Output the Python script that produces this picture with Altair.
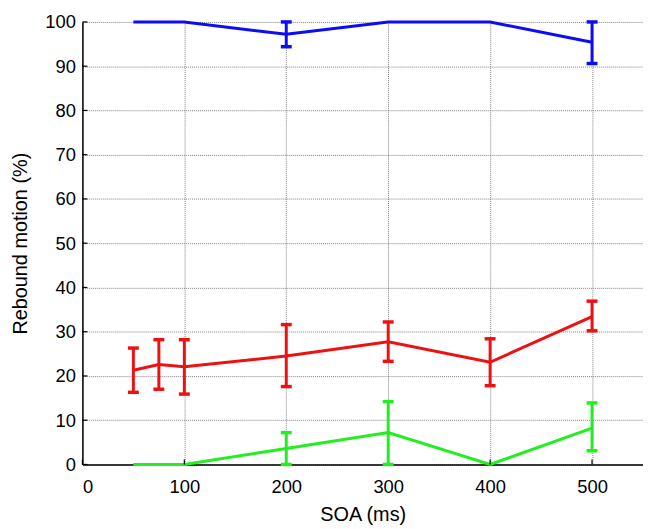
import altair as alt
import pandas as pd

soa = [50, 75, 100, 200, 300, 400, 500]
blue_mean = [100, 100, 100, 97.2, 100, 100, 95.4]
blue_lo = [100, 100, 100, 94.4, 100, 100, 90.6]
blue_hi = [100, 100, 100, 100, 100, 100, 100]
red_mean = [21.3, 22.6, 22.1, 24.5, 27.7, 23.1, 33.4]
red_lo = [16.3, 17.0, 15.9, 17.6, 23.3, 17.8, 30.2]
red_hi = [26.3, 28.2, 28.2, 31.6, 32.2, 28.4, 36.9]
green_mean = [0, 0, 0, 3.6, 7.2, 0, 8.2]
green_lo = [0, 0, 0, 0, 0, 0, 3.1]
green_hi = [0, 0, 0, 7.2, 14.2, 0, 13.9]

x_ticks = [0, 100, 200, 300, 400, 500]
y_ticks = list(range(0, 101, 10))

series = ["blue", "red", "green"]
colors = ["#0c0cf5", "#ee1111", "#22ee22"]

rows = []
for name, m, lo, hi in [("blue", blue_mean, blue_lo, blue_hi),
                        ("red", red_mean, red_lo, red_hi),
                        ("green", green_mean, green_lo, green_hi)]:
    for x, a, b, c in zip(soa, m, lo, hi):
        rows.append({"soa": x, "series": name, "mean": a, "lo": b, "hi": c,
                     "bar": c > b + 0.01})
df = pd.DataFrame(rows)

font = "Liberation Sans"
xscale = alt.Scale(domain=[0, 550], nice=False, zero=False)
yscale = alt.Scale(domain=[0, 100], nice=False)
color = alt.Color("series:N", scale=alt.Scale(domain=series, range=colors), legend=None)

axis_common = dict(grid=True, gridDash=[1, 1], gridColor="#808080", gridOpacity=1,
                   domainColor="black", domainWidth=1.5, ticks=False,
                   labelFont=font, titleFont=font, labelFontSize=18.5, titleFontSize=20,
                   labelColor="black", titleColor="black", titleFontWeight="normal")

base = alt.Chart(df)

line = base.mark_line(strokeWidth=3, clip=False).encode(
    x=alt.X("soa:Q", scale=xscale,
            axis=alt.Axis(values=x_ticks, title="SOA (ms)",
                          labelPadding=13, titlePadding=9, **axis_common)),
    y=alt.Y("mean:Q", scale=yscale,
            axis=alt.Axis(values=y_ticks, title="Rebound motion (%)",
                          labelPadding=7, titlePadding=14, **axis_common)),
    color=color,
)

sel = base.transform_filter("datum.bar")
bars = sel.mark_rule(strokeWidth=3, clip=False).encode(
    x="soa:Q", y="lo:Q", y2="hi:Q", color=color)
cap_lo = sel.mark_tick(orient="horizontal", size=11, thickness=3.5, opacity=1, clip=False).encode(
    x="soa:Q", y="lo:Q", color=color)
cap_hi = sel.mark_tick(orient="horizontal", size=11, thickness=3.5, opacity=1, clip=False).encode(
    x="soa:Q", y="hi:Q", color=color)

# inward tick marks (MATLAB style)
yt = alt.Chart(pd.DataFrame({"v": y_ticks})).mark_rule(color="black", strokeWidth=1.2).encode(
    y=alt.Y("v:Q", scale=yscale), x=alt.value(0), x2=alt.value(5))
xt = alt.Chart(pd.DataFrame({"v": x_ticks})).mark_rule(color="black", strokeWidth=1.2).encode(
    x=alt.X("v:Q", scale=xscale), y=alt.value(446), y2=alt.value(441))

chart = alt.layer(line, yt, xt, bars, cap_lo, cap_hi).properties(
    width=565, height=446,
    background="white",
    autosize=alt.AutoSizeParams(type="none"),
    padding={"left": 75, "top": 12, "right": 0, "bottom": 63},
).configure_view(stroke=None)

chart.save("out.html", embed_options={"renderer": "svg", "actions": False})
